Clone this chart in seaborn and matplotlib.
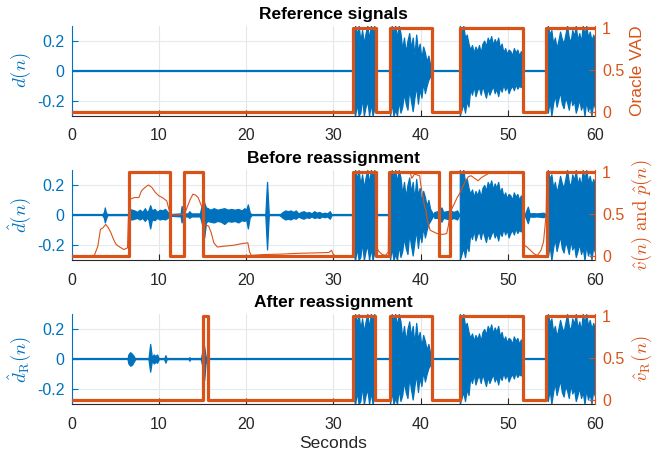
import matplotlib
matplotlib.use("Agg")
import matplotlib.pyplot as plt
import seaborn as sns

# ---------------- data ----------------
DURATION = [0.0, 60.0]            # seconds shown
X_TICKS = [0, 10, 20, 30, 40, 50, 60]
LEFT_TICKS = [-0.2, 0, 0.2]
RIGHT_TICKS = [0, 0.5, 1]
TITLES = ["Reference signals", "Before reassignment", "After reassignment"]

# switching instants of the binary VAD signals (start at 0, toggle at each edge)
ORACLE_EDGES = [32.3, 34.9, 36.5, 41.3, 44.5, 51.7, 54.4]
VHAT_EDGES = [6.6, 11.3, 12.9, 15.0, 32.3, 34.9, 36.4, 42.1, 43.4, 51.8, 54.5]
VR_EDGES = [15.0, 15.65, 32.3, 34.8, 36.5, 41.3, 44.5, 51.7, 54.4]

# soft presence probability p_hat(n)
P_T = [0, 2.6, 3.0, 3.3, 3.6, 3.9, 4.2, 4.5, 4.8, 5.1, 5.5, 6.0, 6.4, 6.5, 6.7,
       7.2, 7.7, 8.0, 8.4, 8.8, 9.2, 9.6, 10.0, 10.4, 10.9, 11.1, 11.3, 12.0,
       12.7, 13.0, 13.3, 13.6, 13.9, 14.2, 14.5, 14.8, 15.1, 15.25, 15.7, 16.0,
       16.3, 16.7, 17.5, 18.5, 19.5, 20.2, 20.4, 20.6, 22.0, 24.0, 26.0, 28.0,
       29.5, 29.8, 30.0, 30.3, 32.2, 32.3, 34.8, 34.9, 35.2, 35.6, 36.0, 36.3,
       36.4, 38.8, 39.0, 39.3, 39.9, 40.0, 40.2, 40.4, 40.6, 40.8, 41.1, 41.5,
       41.9, 42.5, 43.0, 43.2, 43.4, 43.8, 44.2, 44.5, 45.1, 45.5, 45.8, 46.2,
       46.6, 47.0, 47.5, 48.0, 51.8, 51.9, 52.2, 52.6, 53.0, 53.4, 53.8, 54.1,
       54.4, 54.5, 60.0]
P_V = [0.0, 0.01, 0.12, 0.32, 0.34, 0.38, 0.34, 0.28, 0.20, 0.14, 0.11, 0.08,
       0.10, 0.45, 0.68, 0.70, 0.70, 0.78, 0.82, 0.85, 0.82, 0.76, 0.72, 0.70,
       0.66, 0.58, 0.50, 0.49, 0.50, 0.52, 0.60, 0.68, 0.74, 0.73, 0.70, 0.62,
       0.55, 0.38, 0.36, 0.28, 0.16, 0.11, 0.12, 0.13, 0.15, 0.16, 0.05, 0.01,
       0.02, 0.025, 0.035, 0.04, 0.045, 0.07, 0.02, 0.0, 0.0, 1.0, 1.0, 0.12,
       0.06, 0.02, 0.01, 0.05, 1.0, 1.0, 0.93, 0.98, 0.96, 0.87, 0.75, 0.63,
       0.55, 0.42, 0.31, 0.29, 0.27, 0.26, 0.27, 0.37, 0.53, 0.61, 0.70, 0.75,
       0.89, 0.95, 0.96, 0.93, 0.90, 0.94, 0.97, 1.0, 1.0, 0.13, 0.11, 0.07,
       0.03, 0.01, 0.07, 0.17, 0.50, 1.0, 1.0]

# target-speech waveform envelopes (shared by all three panels)
SPA_T = [32.3, 32.5, 32.7, 32.9, 33.1, 33.3, 33.5, 33.7, 33.9, 34.1, 34.3, 34.5, 34.7, 34.85]
SPA_UP = [0.22, 0.30, 0.24, 0.30, 0.20, 0.27, 0.18, 0.25, 0.30, 0.21, 0.30, 0.26, 0.30, 0.05]
SPA_LO = [-0.26, -0.30, -0.22, -0.30, -0.28, -0.18, -0.30, -0.24, -0.20, -0.30, -0.22, -0.30, -0.25, -0.05]

SPB_T = [36.5, 36.7, 36.9, 37.1, 37.3, 37.5, 37.7, 37.9, 38.1, 38.3, 38.5, 38.7, 38.9,
         39.1, 39.3, 39.5, 39.7, 39.9, 40.1, 40.3, 40.5, 40.7, 40.9, 41.1, 41.3]
SPB_UP = [0.24, 0.30, 0.26, 0.30, 0.22, 0.30, 0.25, 0.14, 0.22, 0.12, 0.20, 0.25, 0.15,
          0.22, 0.10, 0.24, 0.13, 0.18, 0.08, 0.16, 0.12, 0.06, 0.10, 0.04, 0.02]
SPB_LO = [-0.30, -0.22, -0.30, -0.26, -0.30, -0.20, -0.28, -0.24, -0.15, -0.22, -0.26, -0.12, -0.20,
          -0.27, -0.18, -0.10, -0.22, -0.12, -0.18, -0.08, -0.15, -0.10, -0.06, -0.04, -0.02]

SPC_T = [44.5, 44.7, 44.9, 45.1, 45.3, 45.5, 45.7, 45.9, 46.1, 46.3, 46.5, 46.7, 46.9,
         47.1, 47.3, 47.5, 47.7, 47.9, 48.1, 48.3, 48.5, 48.7, 48.9, 49.1, 49.3, 49.5,
         49.7, 49.9, 50.1, 50.3, 50.5, 50.7, 50.9, 51.1, 51.3, 51.5, 51.7]
SPC_UP = [0.30, 0.26, 0.30, 0.22, 0.24, 0.18, 0.14, 0.17, 0.12, 0.16, 0.13, 0.17, 0.12,
          0.18, 0.20, 0.16, 0.22, 0.19, 0.23, 0.17, 0.21, 0.18, 0.22, 0.15, 0.18, 0.12,
          0.15, 0.11, 0.14, 0.13, 0.10, 0.15, 0.12, 0.14, 0.10, 0.13, 0.04]
SPC_LO = [-0.30, -0.26, -0.22, -0.28, -0.20, -0.24, -0.12, -0.16, -0.10, -0.17, -0.13, -0.11, -0.16,
          -0.10, -0.14, -0.18, -0.12, -0.16, -0.13, -0.10, -0.15, -0.12, -0.17, -0.11, -0.14, -0.09,
          -0.13, -0.10, -0.15, -0.12, -0.10, -0.13, -0.09, -0.12, -0.10, -0.11, -0.04]

SPD_T = [54.45, 54.6, 54.8, 55.0, 55.2, 55.4, 55.6, 55.8, 56.0, 56.2, 56.4, 56.6, 56.8,
         57.0, 57.2, 57.4, 57.6, 57.8, 58.0, 58.2, 58.4, 58.6, 58.8, 59.0, 59.2, 59.4,
         59.6, 59.8, 60.0]
SPD_UP = [0.05, 0.30, 0.24, 0.27, 0.18, 0.22, 0.15, 0.20, 0.26, 0.21, 0.18, 0.24, 0.30,
          0.22, 0.19, 0.27, 0.23, 0.30, 0.20, 0.25, 0.19, 0.30, 0.24, 0.30, 0.22, 0.26,
          0.20, 0.24, 0.20]
SPD_LO = [-0.05, -0.28, -0.20, -0.30, -0.22, -0.16, -0.24, -0.19, -0.14, -0.22, -0.25, -0.18, -0.21,
          -0.26, -0.17, -0.23, -0.20, -0.28, -0.24, -0.19, -0.26, -0.22, -0.30, -0.20, -0.27, -0.23,
          -0.30, -0.21, -0.25]

# residual (interference) envelopes before reassignment
EX2_T = [3.5, 3.7, 3.8, 3.9, 4.1, 6.5, 6.6, 6.9, 7.2, 7.5, 7.8, 8.1, 8.4, 8.6, 8.8, 9.0,
         9.2, 9.5, 9.8, 10.1, 10.4, 10.7, 11.0, 11.2, 12.0, 12.5, 12.6, 12.8, 13.3,
         13.5, 13.7, 14.7, 14.9, 15.1, 15.2, 15.4, 15.6, 15.9, 16.3, 16.7, 17.1, 17.5,
         17.9, 18.3, 18.7, 19.1, 19.5, 19.8, 20.0, 20.2, 20.4, 20.6, 22.2, 22.4, 22.6,
         23.8, 24.2, 24.5, 24.8, 25.1, 25.4, 25.7, 26.0, 26.3, 26.6, 26.9, 27.2, 27.5,
         27.8, 28.1, 28.4, 28.7, 29.0, 29.3, 29.6, 29.8, 41.3, 41.6, 42.0, 42.4, 42.6,
         43.0, 43.4, 43.8, 44.2, 44.45, 51.8, 52.0, 52.3, 52.5, 52.9, 53.3, 53.7,
         54.1, 54.4]
EX2_UP = [0, 0.02, 0.05, 0.02, 0, 0, 0.04, 0.035, 0.03, 0.02, 0.035, 0.02, 0.045, 0.02,
          0.03, 0.065, 0.03, 0.04, 0.02, 0.035, 0.03, 0.04, 0.02, 0.005, 0.008, 0.01,
          0.06, 0.01, 0.01, 0.025, 0.01, 0.01, 0.06, 0.12, 0.08, 0.05, 0.045, 0.035,
          0.045, 0.035, 0.04, 0.045, 0.035, 0.04, 0.035, 0.04, 0.03, 0.045, 0.035, 0.07,
          0.02, 0, 0, 0.22, 0, 0, 0.02, 0.03, 0.025, 0.03, 0.02, 0.03, 0.01, 0.02,
          0.025, 0.015, 0.02, 0.01, 0.025, 0.015, 0.02, 0.01, 0.015, 0.01, 0.025, 0,
          0, 0.02, 0.025, 0.05, 0.02, 0.025, 0.03, 0.02, 0.03, 0, 0, 0.01, 0.055, 0.01,
          0.012, 0.01, 0.012, 0.015, 0]
EX2_LO = [0, -0.02, -0.05, -0.03, 0, 0, -0.03, -0.03, -0.025, -0.02, -0.03, -0.02, -0.04,
          -0.02, -0.03, -0.09, -0.03, -0.035, -0.02, -0.03, -0.025, -0.03, -0.02, -0.005,
          -0.008, -0.01, -0.05, -0.01, -0.01, -0.02, -0.01, -0.01, -0.05, -0.10, -0.15,
          -0.05, -0.04, -0.045, -0.05, -0.04, -0.045, -0.06, -0.04, -0.045, -0.04, -0.05,
          -0.035, -0.04, -0.03, -0.09, -0.02, 0, 0, -0.23, 0, 0, -0.02, -0.03, -0.025,
          -0.03, -0.02, -0.025, -0.01, -0.02, -0.025, -0.015, -0.02, -0.01, -0.02, -0.015,
          -0.02, -0.01, -0.015, -0.01, -0.025, 0, 0, -0.02, -0.02, -0.045, -0.02, -0.025,
          -0.03, -0.02, -0.03, 0, 0, -0.01, -0.055, -0.01, -0.012, -0.01, -0.012, -0.015, 0]

# residual envelopes after reassignment
EX3_T = [6.4, 6.5, 6.7, 6.9, 7.1, 7.3, 8.8, 9.0, 9.2, 9.4, 9.6, 9.8, 10.0, 10.6, 10.75,
         10.9, 13.4, 13.5, 13.6, 14.8, 14.95, 15.1, 15.2, 15.35, 15.5, 15.65, 15.8]
EX3_UP = [0, 0.03, 0.045, 0.035, 0.02, 0, 0, 0.10, 0.01, 0.03, 0.02, 0.03, 0, 0, 0.025,
          0, 0, 0.012, 0, 0, 0.04, 0.115, 0.08, 0.02, 0, 0.01, 0]
EX3_LO = [0, -0.03, -0.045, -0.04, -0.02, 0, 0, -0.085, -0.01, -0.03, -0.02, -0.025, 0, 0,
          -0.025, 0, 0, -0.012, 0, 0, -0.04, -0.09, -0.14, -0.03, 0, -0.01, 0]

# ---------------- style ----------------
BLUE = "#0072BD"
ORANGE = "#D95319"
DARK = "#262626"

sns.set_theme(style="white")
plt.rcParams["font.family"] = ["Liberation Sans", "DejaVu Sans"]
plt.rcParams["mathtext.fontset"] = "cm"

TICK_FS = 11.5
LABEL_FS = 12.5


def step_series(edges):
    xs, ys = [DURATION[0]], [0.0]
    level = 0.0
    for e in edges:
        xs += [e, e]
        ys += [level, 1.0 - level]
        level = 1.0 - level
    xs.append(DURATION[1])
    ys.append(level)
    return xs, ys


SPEECH = [(SPA_T, SPA_UP, SPA_LO), (SPB_T, SPB_UP, SPB_LO),
          (SPC_T, SPC_UP, SPC_LO), (SPD_T, SPD_UP, SPD_LO)]

fig = plt.figure(figsize=(6.57, 4.54), dpi=100)
left, width, height = 0.1091, 0.7965, 0.1985
bottoms = [0.7452, 0.4273, 0.1101]

panels = [
    dict(extra=None, edges=ORACLE_EDGES, ll=r"$d(n)$", rl="Oracle VAD", p=False),
    dict(extra=(EX2_T, EX2_UP, EX2_LO), edges=VHAT_EDGES, ll=r"$\hat{d}(n)$",
         rl=r"$\hat{v}(n)\ \mathrm{and}\ \hat{p}(n)$", p=True),
    dict(extra=(EX3_T, EX3_UP, EX3_LO), edges=VR_EDGES, ll=r"$\hat{d}_{\mathrm{R}}(n)$",
         rl=r"$\hat{v}_{\mathrm{R}}(n)$", p=False),
]

for i, cfg in enumerate(panels):
    ax = fig.add_axes([left, bottoms[i], width, height])
    ax.set_facecolor("white")
    ax.set_axisbelow(True)
    ax.xaxis.grid(True, color="#e6e6e6", lw=0.8)
    ax.yaxis.grid(True, color="#e2ebf4", lw=0.8)

    # waveform: zero line + envelopes
    sns.lineplot(x=DURATION, y=[0.0, 0.0], ax=ax, color=BLUE, lw=1.6)
    blobs = list(SPEECH)
    if cfg["extra"] is not None:
        blobs.append(cfg["extra"])
    for t, up, lo in blobs:
        ax.fill_between(t, lo, up, color=BLUE, lw=0.9, edgecolor=BLUE)

    ax.set_xlim(*DURATION)
    ax.set_ylim(-0.3, 0.3)
    ax.set_xticks(X_TICKS)
    ax.set_yticks(LEFT_TICKS)
    ax.set_yticklabels(["-0.2", "0", "0.2"])
    ax.tick_params(axis="y", colors=BLUE, direction="in", length=4, width=0.8,
                   labelsize=TICK_FS, pad=5, left=True)
    ax.tick_params(axis="x", colors=DARK, direction="in", length=4, width=0.8,
                   labelsize=TICK_FS, pad=9, bottom=True)
    for s in ["top", "right"]:
        ax.spines[s].set_visible(False)
    ax.spines["left"].set_color(BLUE)
    ax.spines["left"].set_linewidth(0.8)
    ax.spines["bottom"].set_color(DARK)
    ax.spines["bottom"].set_linewidth(0.8)
    ax.set_ylabel(cfg["ll"], color=BLUE, fontsize=LABEL_FS + 1, labelpad=3)
    ax.set_title(TITLES[i], fontsize=12.5, fontweight="bold", color="black", pad=5)
    if i == 2:
        ax.set_xlabel("Seconds", fontsize=12.5, color=DARK, labelpad=3)

    ax2 = ax.twinx()
    ax2.grid(False)
    if cfg["p"]:
        sns.lineplot(x=P_T, y=P_V, ax=ax2, color=ORANGE, lw=0.8,
                     sort=False, estimator=None)
    sx, sy = step_series(cfg["edges"])
    sns.lineplot(x=sx, y=sy, ax=ax2, color=ORANGE, lw=2.3,
                 sort=False, estimator=None)
    ax2.set_ylim(-0.045, 1.03)
    ax2.set_yticks(RIGHT_TICKS)
    ax2.set_yticklabels(["0", "0.5", "1"])
    ax2.tick_params(axis="y", colors=ORANGE, direction="in", length=4, width=0.8,
                    labelsize=TICK_FS, pad=5, right=True)
    for s in ["top", "left", "bottom"]:
        ax2.spines[s].set_visible(False)
    ax2.spines["right"].set_color(ORANGE)
    ax2.spines["right"].set_linewidth(0.8)
    rfs = LABEL_FS if i == 0 else LABEL_FS + 1
    ax2.set_ylabel(cfg["rl"], color=ORANGE, fontsize=rfs, labelpad=4)
    ax2.set_xlim(*DURATION)

fig.savefig("out.png", dpi=100, facecolor="white")
